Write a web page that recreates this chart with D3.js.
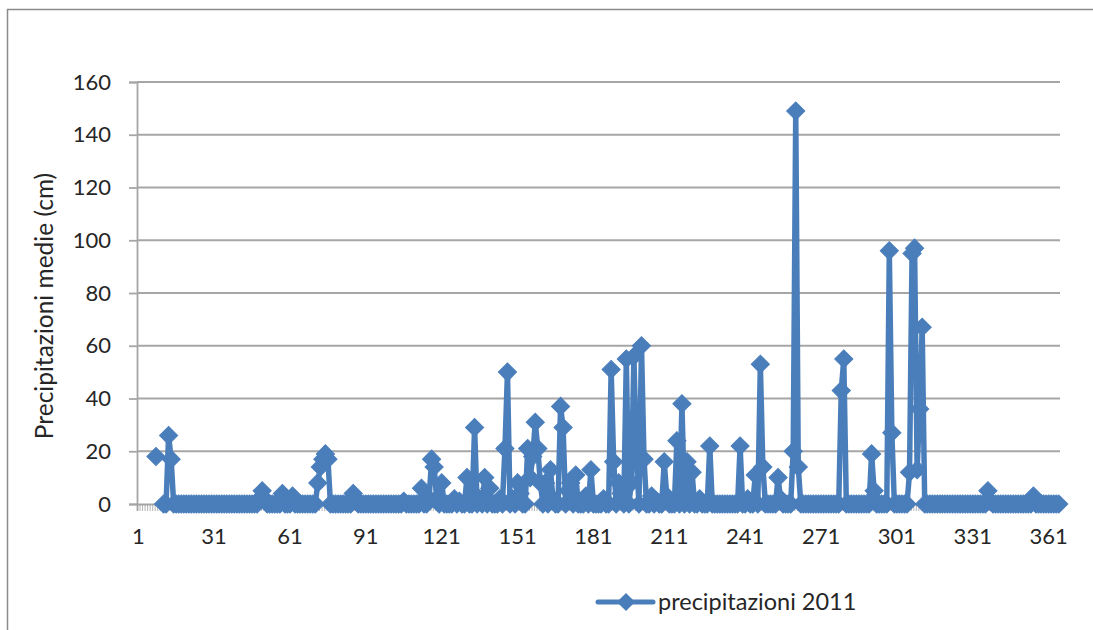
<!DOCTYPE html>
<html>
<head>
<meta charset="utf-8">
<script src="https://cdn.jsdelivr.net/npm/d3@7"></script>
<style>
  html, body { margin: 0; padding: 0; background: #ffffff; }
  svg { display: block; }
  text { font-family: Lato, "Open Sans", "Liberation Sans", sans-serif; fill: #262626; }
</style>
</head>
<body>
<svg id="chart" width="1093" height="630"></svg>
<script>
// Daily rainfall for 2011, one value per day (null = no reading)
const rain2011 = [
  null, null, null, null, null, null, null, 18, null, null,   // 1-10
  0, 0, 26, 17, 0, 0, 0, 0, 0, 0,                               // 11-20
  0, 0, 0, 0, 0, 0, 0, 0, 0, 0,                                 // 21-30
  0, 0, 0, 0, 0, 0, 0, 0, 0, 0,                                 // 31-40
  0, 0, 0, 0, 0, 0, 0, 0, 2, 5,                                 // 41-50
  2, 0, 0, 0, 0, 0, 0, 4, 0, 0,                                 // 51-60
  0, 3, 0, 0, 0, 0, 0, 0, 0, 0,                                 // 61-70
  0, 8, 14, 17, 19, 17, 0, 0, 0, 0,                             // 71-80
  0, 0, 0, 0, 0, 4, 2, 0, 0, 0,                                 // 81-90
  0, 0, 0, 0, 0, 0, 0, 0, 0, 0,                                 // 91-100
  0, 0, 0, 0, 0, 1, 0, 0, 0, 0,                                 // 101-110
  0, 0, 6, 0, 0, 2, 17, 14, 2, 0,                               // 111-120
  8, 0, 0, 0, 0, 2, 0, 1, 0, 0,                                 // 121-130
  10, 0, 0, 29, 0, 2, 0, 10, 0, 6,                              // 131-140
  0, 0, 0, 2, 0, 21, 50, 0, 2, 0,                               // 141-150
  8, 4, 0, 0, 21, 10, 18, 31, 21, 8,                            // 151-160
  0, 8, 0, 13, 2, 0, 0, 37, 29, 0,                              // 161-170
  5, 8, 0, 11, 0, 0, 0, 3, 0, 13,                               // 171-180
  0, 0, 0, 0, 2, 0, 0, 51, 16, 0,                               // 181-190
  8, 4, 0, 55, 0, 8, 56, 18, 0, 60,                             // 191-200
  17, 0, 0, 3, 0, 1, 0, 0, 16, 3,                               // 201-210
  0, 0, 0, 24, 0, 38, 0, 16, 0, 12,                             // 211-220
  0, 0, 2, 0, 0, 0, 22, 0, 0, 0,                                // 221-230
  0, 0, 0, 0, 0, 0, 0, 0, 22, 0,                                // 231-240
  0, 2, 0, 0, 11, 0, 53, 14, 0, 0,                              // 241-250
  0, 0, 0, 10, 2, 0, 0, 0, 0, 20,                               // 251-260
  149, 14, 0, 0, 0, 0, 0, 0, 0, 0,                              // 261-270
  0, 0, 0, 0, 0, 0, 0, 0, 43, 55,                               // 271-280
  0, 0, 0, 0, 0, 0, 0, 0, 0, 0,                                 // 281-290
  19, 5, 0, 0, 0, 0, 0, 96, 27, 0,                              // 291-300
  0, 0, 0, 0, 0, 12, 95, 97, 13, 36,                            // 301-310
  67, 0, 0, 0, 0, 0, 0, 0, 0, 0,                                // 311-320
  0, 0, 0, 0, 0, 0, 0, 0, 0, 0,                                 // 321-330
  0, 0, 0, 0, 0, 0, 5, 1, 0, 0,                                 // 331-340
  0, 0, 0, 0, 0, 0, 0, 0, 0, 0,                                 // 341-350
  0, 0, 0, 0, 3, 0, 0, 0, 0, 0,                                 // 351-360
  0, 0, 0, 0, 0                                                 // 361-365
];
const days = rain2011.map((_, i) => i + 1);
const xTickLabels = [1, 31, 61, 91, 121, 151, 181, 211, 241, 271, 301, 331, 361];
const yTicks = [0, 20, 40, 60, 80, 100, 120, 140, 160];
const seriesName = "precipitazioni 2011";
const yTitle = "Precipitazioni medie (cm)";

const BLUE = "#4a7ebb";
const GRID = "#a6a6a6";

const svg = d3.select("#chart");

// chart frame
svg.append("rect")
  .attr("x", 7.5).attr("y", 9.5)
  .attr("width", 1200).attr("height", 800)
  .attr("fill", "none").attr("stroke", "#8c8c8c").attr("stroke-width", 1.5);

const plot = { left: 137, right: 1060, top: 82, bottom: 504 };

const x = d3.scaleBand().domain(days).range([plot.left, plot.right]).paddingInner(0).paddingOuter(0);
const xEdge = d3.scaleLinear().domain([0, days.length]).range([plot.left, plot.right]);
const y = d3.scaleLinear().domain([0, 160]).range([plot.bottom, plot.top]);
const cx = d => x(d) + x.bandwidth() / 2;

// horizontal gridlines
svg.append("g")
  .selectAll("line")
  .data(yTicks.filter(v => v > 0))
  .join("line")
  .attr("x1", plot.left).attr("x2", plot.right)
  .attr("y1", d => y(d)).attr("y2", d => y(d))
  .attr("stroke", GRID).attr("stroke-width", 1.8);

// value axis
const yAxis = svg.append("g")
  .attr("transform", `translate(${plot.left},0)`)
  .call(d3.axisLeft(y).tickValues(yTicks).tickSize(8).tickPadding(18));
yAxis.select(".domain").attr("stroke", GRID).attr("stroke-width", 1.8);
yAxis.selectAll(".tick line").attr("stroke", GRID).attr("stroke-width", 1.8);
yAxis.selectAll(".tick text")
  .attr("font-size", 22).attr("fill", "#262626")
  .style("font-family", "Lato, 'Open Sans', sans-serif");

// category axis: tick marks on every category boundary
const xTickAxis = svg.append("g")
  .attr("transform", `translate(0,${plot.bottom})`)
  .call(d3.axisBottom(xEdge).tickValues(d3.range(0, days.length + 1)).tickSize(7).tickFormat(""));
xTickAxis.select(".domain").attr("stroke", GRID).attr("stroke-width", 1.8);
xTickAxis.selectAll(".tick line").attr("stroke", "#a0a0a0").attr("stroke-width", 0.8);

// category labels every 30 days
const xLabelAxis = svg.append("g")
  .attr("transform", `translate(0,${plot.bottom})`)
  .call(d3.axisBottom(x).tickValues(xTickLabels).tickSize(0).tickPadding(24));
xLabelAxis.select(".domain").remove();
xLabelAxis.selectAll(".tick text")
  .attr("font-size", 22).attr("fill", "#262626")
  .style("font-family", "Lato, 'Open Sans', sans-serif");

// axis title
svg.append("text")
  .attr("transform", `translate(53,306) rotate(-90)`)
  .attr("text-anchor", "middle")
  .attr("font-size", 24.5)
  .text(yTitle);

// series line
const points = days.map((d, i) => ({ day: d, value: rain2011[i] }));
const line = d3.line()
  .defined(p => p.value !== null)
  .x(p => cx(p.day))
  .y(p => y(p.value));

svg.append("path")
  .datum(points)
  .attr("d", line)
  .attr("fill", "none")
  .attr("stroke", BLUE)
  .attr("stroke-width", 5.5)
  .attr("stroke-linejoin", "round")
  .attr("stroke-linecap", "round");

// diamond markers
const diamond = d3.symbol().type(d3.symbolSquare).size(165);
svg.append("g")
  .selectAll("path")
  .data(points.filter(p => p.value !== null))
  .join("path")
  .attr("d", diamond)
  .attr("transform", p => `translate(${cx(p.day)},${y(p.value)}) rotate(45)`)
  .attr("fill", BLUE)
  .attr("stroke", BLUE)
  .attr("stroke-width", 1);

// legend
const legend = svg.append("g").attr("transform", "translate(598,602)");
legend.append("line")
  .attr("x1", 0).attr("x2", 55).attr("y1", 0).attr("y2", 0)
  .attr("stroke", BLUE).attr("stroke-width", 5).attr("stroke-linecap", "round");
legend.append("path")
  .attr("d", diamond)
  .attr("transform", "translate(28,0) rotate(45)")
  .attr("fill", BLUE);
legend.append("text")
  .attr("x", 60).attr("y", 8)
  .attr("font-size", 23.5)
  .text(seriesName);
</script>
</body>
</html>
